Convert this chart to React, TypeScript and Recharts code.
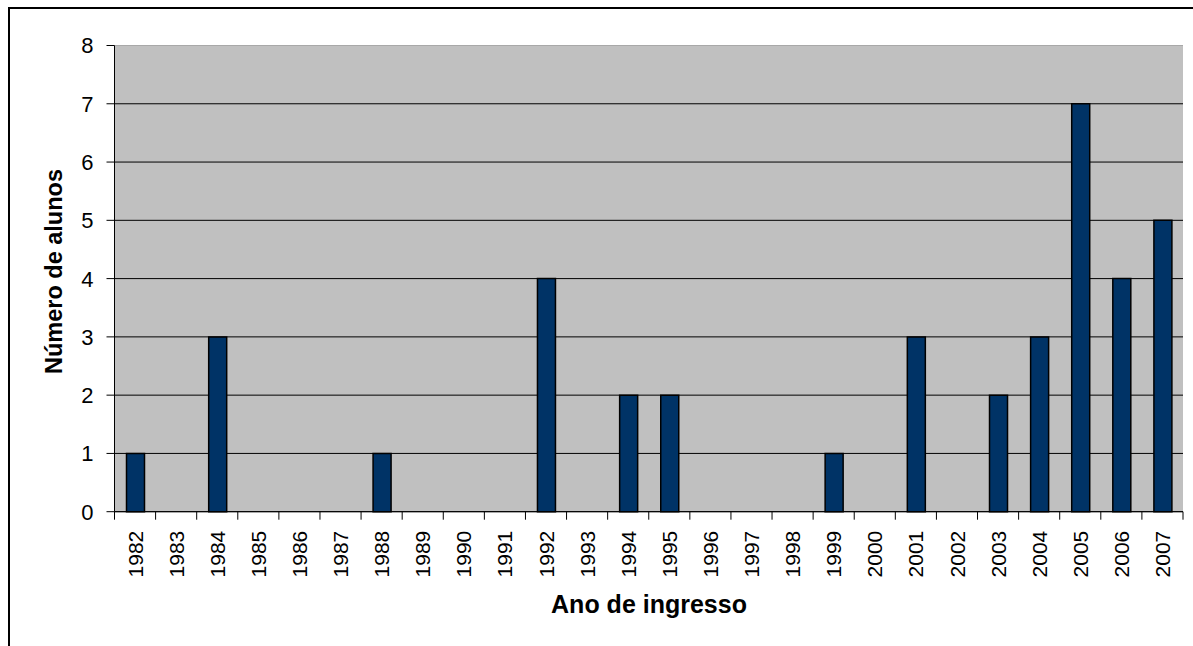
import React from 'react';
import { BarChart, Bar, XAxis, YAxis, CartesianGrid } from 'recharts';

const years = ['1982','1983','1984','1985','1986','1987','1988','1989','1990','1991','1992','1993','1994','1995','1996','1997','1998','1999','2000','2001','2002','2003','2004','2005','2006','2007'];
const alunos = [1,0,3,0,0,0,1,0,0,0,4,0,2,2,0,0,0,1,0,3,0,2,3,7,4,5];
const yTicks = [0,1,2,3,4,5,6,7,8];

const data = years.map((ano, i) => ({ ano, alunos: alunos[i] }));

const W = 1193;
const H = 646;
const M = { top: 45.5, right: 10, left: 0, bottom: 0 };
const Y_W = 114.5;
const X_H = 134.3;
const PLOT_W = W - M.left - M.right - Y_W;
const BAND = PLOT_W / years.length;
const FONT = 'Arial, "Liberation Sans", sans-serif';
const TICK_SIZE = 8;
const TICK_MARGIN = 11;

const XTick = (props: any) => {
  const { x, y, payload, index } = props;
  const axisY = y - TICK_SIZE - TICK_MARGIN;
  const left = x - BAND / 2;
  const right = x + BAND / 2;
  return (
    <g>
      <line x1={left} y1={axisY} x2={left} y2={axisY + TICK_SIZE} stroke="#000" strokeWidth={1} />
      {index === years.length - 1 && (
        <line x1={right} y1={axisY} x2={right} y2={axisY + TICK_SIZE} stroke="#000" strokeWidth={1} />
      )}
      <text
        x={x}
        y={y}
        transform={`rotate(-90 ${x} ${y})`}
        textAnchor="end"
        dy="0.36em"
        style={{ fontSize: '21px', fontFamily: FONT }}
        fill="#000"
      >
        {payload.value}
      </text>
    </g>
  );
};

const YTick = (props: any) => {
  const { x, y, payload } = props;
  return (
    <text
      x={x}
      y={y}
      dy="0.36em"
      textAnchor="end"
      style={{ fontSize: '22px', fontFamily: FONT }}
      fill="#000"
    >
      {payload.value}
    </text>
  );
};

const GridLine = (props: any) => {
  const { x1, y1, x2, y2 } = props;
  const isTop = Math.abs(y1 - M.top) < 1;
  return (
    <line
      x1={x1}
      y1={y1}
      x2={x2}
      y2={y2}
      stroke={isTop ? '#A8A8A8' : '#000'}
      strokeWidth={1}
    />
  );
};

export default function App() {
  return (
    <div style={{ position: 'absolute', left: 0, top: 0, width: W, height: H, background: '#fff' }}>
      <div
        style={{
          position: 'absolute',
          left: 8,
          top: 6.5,
          width: 1185,
          height: 640,
          borderTop: '2px solid #000',
          borderLeft: '2px solid #000',
          boxSizing: 'border-box',
        }}
      />
      <div style={{ position: 'absolute', left: 0, top: 0 }}>
        <BarChart width={W} height={H} data={data} margin={M} barSize={18}>
          <CartesianGrid
            vertical={false}
            horizontal={(p: any) => <GridLine key={`g-${p.index}-${p.y1}`} {...p} />}
            fill="#C0C0C0"
          />
          <XAxis
            dataKey="ano"
            height={X_H}
            interval={0}
            tickLine={false}
            tickSize={TICK_SIZE}
            tickMargin={TICK_MARGIN}
            tick={<XTick />}
            axisLine={{ stroke: '#000', strokeWidth: 1 }}
            label={{
              content: () => (
                <text x={649} y={613} textAnchor="middle" style={{ fontSize: '25px', fontWeight: 'bold', fontFamily: FONT }} fill="#000">
                  Ano de ingresso
                </text>
              ),
            }}
          />
          <YAxis
            width={Y_W}
            domain={[0, 8]}
            ticks={yTicks}
            interval={0}
            allowDecimals={false}
            tickSize={8}
            tickMargin={13}
            tickLine={{ stroke: '#000' }}
            axisLine={{ stroke: '#000', strokeWidth: 1 }}
            tick={<YTick />}
            label={{
              content: () => (
                <text
                  x={61.5}
                  y={271.5}
                  transform="rotate(-90 61.5 271.5)"
                  textAnchor="middle"
                  style={{ fontSize: '23.5px', fontWeight: 'bold', fontFamily: FONT }}
                  fill="#000"
                >
                  Número de alunos
                </text>
              ),
            }}
          />
          <Bar dataKey="alunos" fill="#003366" stroke="#000" strokeWidth={1.5} isAnimationActive={false} />
        </BarChart>
      </div>
    </div>
  );
}
